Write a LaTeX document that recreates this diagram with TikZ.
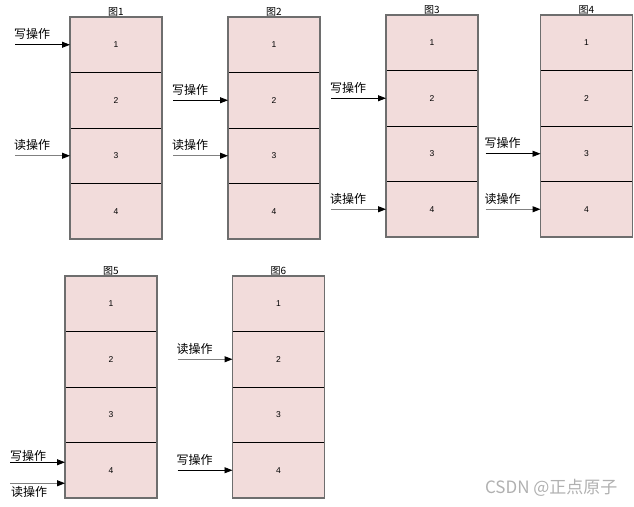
\documentclass[tikz,border=0pt]{standalone}
\usepackage{fontspec}
\setmainfont{Liberation Sans}
\newfontfamily\cjk{Noto Sans CJK SC}
\usetikzlibrary{arrows.meta,positioning}

\definecolor{cellpink}{HTML}{F2DCDB}
\definecolor{edgegray}{HTML}{6E6E6E}
\definecolor{markgray}{HTML}{B0B0B0}

\tikzset{
  cell/.style={draw=black, line width=0.6pt, fill=cellpink,
    minimum width=92pt, minimum height=55.5pt, inner sep=0pt, outer sep=0pt,
    font=\fontsize{8.5}{9}\selectfont},
  boxedge/.style={draw=edgegray, line width=1.1pt},
  figtitle/.style={font=\cjk\fontsize{10}{11}\selectfont, inner sep=1pt},
  oplabel/.style={font=\cjk\fontsize{12}{13}\selectfont, inner sep=0pt},
  writeop/.style={draw=black, line width=0.8pt,
    -{Triangle[length=8pt,width=6pt,black]}},
  readop/.style={draw=gray, line width=1pt,
    -{Triangle[length=8pt,width=6pt,black]}}
}

\begin{document}
\begin{tikzpicture}[x=1pt,y=1pt]
    \useasboundingbox (0,0) rectangle (634,-506);

    % Six snapshots of the buffer, four cells each
    \foreach \n/\x/\y in {1/70/17, 2/228/17, 3/386/15, 4/540.5/15, 5/65/276, 6/232.5/276} {
        \node[cell, anchor=north west] (f\n-1) at (\x,-\y) {1};
        \node[cell, below=0pt of f\n-1] (f\n-2) {2};
        \node[cell, below=0pt of f\n-2] (f\n-3) {3};
        \node[cell, below=0pt of f\n-3] (f\n-4) {4};
        \draw[boxedge] (f\n-1.north west) rectangle (f\n-4.south east);
        \node[figtitle, above=0pt of f\n-1] (t\n) {图\n};
    }

    % Write pointers
    \foreach \a/\tgt in {w1/f1-1, w2/f2-2, w3/f3-2, w4/f4-3, w6/f6-4} {
        \coordinate[left=55pt of \tgt.west] (\a);
        \draw[writeop] (\a) -- (\tgt.west);
        \node[oplabel, above right=5pt and -1pt of \a] (l\a) {写操作};
    }

    % Read pointers
    \foreach \a/\tgt in {r1/f1-3, r2/f2-3, r3/f3-4, r4/f4-4, r6/f6-2} {
        \coordinate[left=55pt of \tgt.west] (\a);
        \draw[readop] (\a) -- (\tgt.west);
        \node[oplabel, above right=5pt and -1pt of \a] (l\a) {读操作};
    }

    % Fig 5: both pointers on cell 4
    \coordinate (w5) at ([xshift=-55pt,yshift=8pt]f5-4.west);
    \draw[writeop] (w5) -- (w5 -| f5-4.west);
    \node[oplabel, above right=1pt and 0pt of w5] (lw5) {写操作};
    \coordinate (r5) at ([xshift=-55pt,yshift=-13pt]f5-4.west);
    \draw[readop] (r5) -- (r5 -| f5-4.west);
    \node[oplabel, below right=3pt and 1pt of r5] (lr5) {读操作};

    % watermark
    \node[font=\cjk\fontsize{17}{18}\selectfont, text=markgray, anchor=east] (mark) at (621,-488) {CSDN @正点原子};
\end{tikzpicture}
\end{document}
